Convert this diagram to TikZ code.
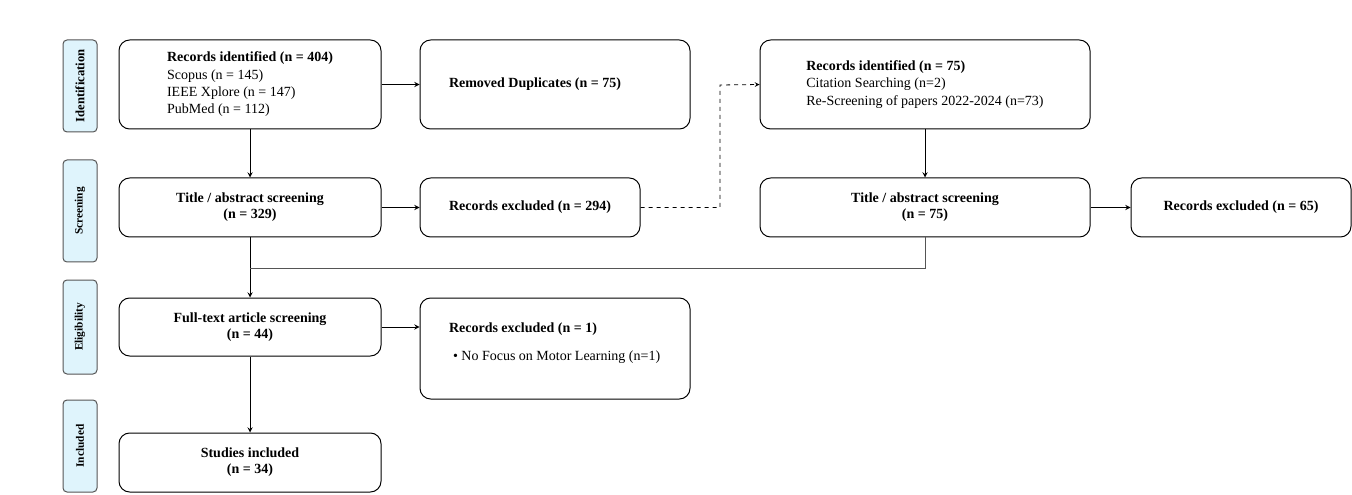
\documentclass[tikz,border=0pt]{standalone}
\usepackage{fontspec}
\setmainfont{Liberation Serif}
\usepackage{tikz}
\usetikzlibrary{positioning,arrows}

\definecolor{phaseblue}{HTML}{DFF4FC}
\definecolor{phaseline}{HTML}{555555}

\begin{document}
\begin{tikzpicture}[x=0.75pt,y=-0.75pt,
        box/.style={draw,line width=0.75pt,rounded corners=8pt,font=\fontsize{10.5}{13}\selectfont},
        boldbox/.style={box,align=center,font=\fontsize{10.5}{12}\selectfont\bfseries},
        phase/.style={draw=phaseline,fill=phaseblue,line width=0.75pt,rounded corners=3pt,
            rotate=90,minimum height=25.5pt,inner sep=0pt,font=\fontsize{8.5}{9}\selectfont\bfseries},
        link/.style={->,line width=0.75pt,>=stealth}]
        \useasboundingbox (0,0) rectangle (1352,495);
        % phases
        \node[phase,minimum width=69pt,font=\fontsize{9.5}{10}\selectfont\bfseries] at (80,86) (ident) {Identification};
        \node[phase,minimum width=76.5pt] at (80,211) (scr) {Screening};
        \node[phase,minimum width=70.5pt] at (80,327) (elig) {Eligibility};
        \node[phase,minimum width=69pt] at (80,446) (incl) {Included};
        % boxes
        \node[box,minimum width=196.5pt,minimum height=66.75pt,align=left] at (250,84.5) (rec1)
            {\textbf{Records identified (n = 404)}\\Scopus (n = 145)\\IEEE Xplore (n = 147)\\PubMed (n = 112)};
        \node[box,minimum width=202.5pt,minimum height=66.75pt,text width=159pt,inner xsep=21.75pt,align=flush left] at (555,84.5) (dupl)
            {\textbf{Removed Duplicates (n = 75)}};
        \node[box,minimum width=247.5pt,minimum height=66.75pt,align=left] at (925,84.5) (rec2)
            {\textbf{Records identified (n = 75)}\\Citation Searching (n=2)\\Re-Screening of papers 2022-2024 (n=73)};
        \node[boldbox,minimum width=196.5pt,minimum height=44.25pt] at (250,207.5) (tas1)
            {Title / abstract screening\\(n = 329)};
        \node[boldbox,minimum width=165pt,minimum height=44.25pt] at (530,207.5) (exc294)
            {Records excluded (n = 294)};
        \node[boldbox,minimum width=247.5pt,minimum height=44.25pt] at (925,207.5) (tas2)
            {Title / abstract screening\\(n = 75)};
        \node[boldbox,minimum width=165pt,minimum height=44.25pt] at (1241,207.5) (exc65)
            {Records excluded (n = 65)};
        \node[boldbox,minimum width=196.5pt,minimum height=43.5pt] at (250,327) (fts)
            {Full-text article screening\\(n = 44)};
        \node[box,minimum width=202.5pt,minimum height=75.75pt,text width=159pt,inner xsep=21.75pt,align=flush left] at (555,348.5) (exc1)
            {\textbf{Records excluded (n = 1)}\\[8pt]\mbox{\hspace*{3pt}\textbullet\ No Focus on Motor Learning (n=1)}\\[-3.25pt]\mbox{}};
        \node[boldbox,minimum width=196.5pt,minimum height=44.25pt] at (250,462.5) (inc)
            {Studies included\\(n = 34)};
        \coordinate (bend) at (720,85);
        \coordinate (join) at (250,269);
        % connectors
        \path[link]
        (rec1) edge (dupl)
        (rec1) edge (tas1)
        (tas1) edge (exc294)
        (rec2) edge (tas2)
        (tas2) edge (exc65)
        (tas1) edge (fts)
        (fts) edge (exc1.west |- fts.east)
        (fts) edge (inc)
        ;
        \draw[link,dashed,line width=0.6pt] (exc294.east) -| (bend) -- (rec2.west);
        \draw[line width=0.75pt,phaseline] (tas2.south) |- (join);
    \end{tikzpicture}
\end{document}
